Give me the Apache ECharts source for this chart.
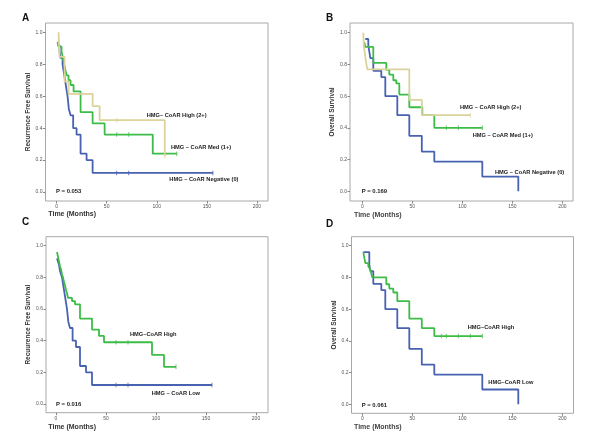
<!DOCTYPE html>
<html>
<head>
<meta charset="utf-8">
<script src="https://cdn.jsdelivr.net/npm/echarts@6/dist/echarts.min.js"></script>
<style>html,body{margin:0;padding:0;background:#fff;}#c{width:600px;height:446px;}</style>
</head>
<body>
<div id="c"></div>
<script>
// Tick values
const xTicks = [0, 50, 100, 150, 200];
const yTicks = [0, 0.2, 0.4, 0.6, 0.8, 1.0];

// Panel A: Recurrence free survival, HMG-CoAR Negative / Med / High
const a_neg = [[1,0.92],[3,0.88],[4,0.84],[6,0.80],[7,0.76],[8,0.72],[9,0.68],[10,0.64],[11,0.60],[12.3,0.52],[14,0.48],[16.6,0.40],[20,0.36],[24,0.24],[30,0.20],[36,0.12],[156,0.12]];
const a_negCens = [[60,0.12],[72,0.12],[156,0.12]];
const a_med = [[1,0.94],[2,0.91],[5,0.88],[6,0.85],[7,0.82],[8,0.79],[9,0.76],[10,0.73],[12,0.70],[14,0.67],[17,0.63],[24,0.50],[36,0.43],[48,0.36],[96,0.24],[120,0.24]];
const a_medCens = [[60,0.36],[72,0.36],[120,0.24]];
const a_high = [[2,1.0],[2.5,0.923],[3,0.846],[8,0.692],[12,0.615],[36,0.538],[43,0.45],[108,0.226]];
const a_highCens = [[60,0.45],[108,0.226]];

// Panel B: Overall survival, Negative / Med / High
const b_neg = [[3,0.96],[6,0.92],[7,0.88],[8,0.84],[11,0.76],[19,0.72],[23,0.60],[35,0.48],[47,0.35],[59.5,0.25],[72,0.187],[120,0.093],[156,0.0]];
const b_med = [[2,0.94],[3,0.91],[11,0.81],[24,0.765],[27,0.735],[31,0.70],[34,0.68],[37,0.61],[47,0.53],[60,0.48],[72,0.40],[120,0.40]];
const b_medCens = [[84,0.40],[96,0.40],[120,0.40]];
const b_high = [[1,1.0],[1.5,0.92],[3,0.846],[5,0.769],[47,0.577],[59.5,0.48],[108,0.48]];
const b_highCens = [[108,0.48]];

// Panel C: Recurrence free survival, Low / High
const c_low = [[1,0.92],[3,0.88],[4,0.84],[6,0.80],[7,0.76],[8,0.72],[9,0.68],[10,0.64],[11,0.60],[12.3,0.52],[14,0.48],[16.6,0.40],[20,0.36],[24,0.24],[30,0.20],[36,0.12],[156,0.12]];
const c_lowCens = [[60,0.12],[72,0.12],[156,0.12]];
const c_high = [[1,0.96],[2,0.93],[3,0.90],[4,0.87],[5,0.85],[6,0.82],[7,0.80],[8,0.77],[9,0.75],[10,0.72],[11,0.70],[12,0.67],[16,0.65],[19,0.63],[24,0.54],[36,0.47],[43,0.43],[48,0.39],[96,0.31],[108,0.235],[120,0.235]];
const c_highCens = [[60,0.39],[72,0.39],[120,0.235]];

// Panel D: Overall survival, Low / High
const d_low = [[1,0.96],[7,0.88],[8,0.84],[11,0.76],[19,0.72],[23,0.60],[35,0.48],[47,0.35],[59.5,0.25],[72,0.187],[120,0.093],[156,0.0]];
const d_high = [[1,0.96],[3,0.89],[6,0.87],[8,0.85],[10,0.80],[24,0.757],[27,0.73],[31,0.705],[35,0.65],[47,0.54],[59.5,0.48],[72,0.43],[120,0.43]];
const d_highCens = [[79,0.43],[84,0.43],[96,0.43],[108,0.43],[120,0.43]];

const yTitles = ['Recurrence Free Survival', 'Overall Survival', 'Recuurence Free Survival', 'Overall Survival'];
const xTitle = 'Time (Months)';
const panelLetters = ['A', 'B', 'C', 'D'];
const pValues = ['P = 0.053', 'P = 0.169', 'P = 0.016', 'P = 0.061'];

const BLUE = '#4862b2', GREEN = '#3dbd48', TAN = '#dbd29c';
const FONT = '"Liberation Sans", Arial, sans-serif';

const gridsCfg = [
  {left: 45.5, top: 23, width: 222.5, height: 178},
  {left: 350, top: 23, width: 223, height: 178},
  {left: 46, top: 236.7, width: 222, height: 176},
  {left: 351.5, top: 236.7, width: 222, height: 176.6}
];
const xRanges = [[-11, 211], [-12.3, 210.7], [-10, 212], [-10.8, 211.2]];
const yRanges = [[-0.056, 1.058], [-0.061, 1.061], [-0.055, 1.057], [-0.057, 1.057]];

const grid = gridsCfg.map(g => Object.assign({show: true, borderColor: '#a8a8a8', borderWidth: 1, backgroundColor: '#fff'}, g));
const xAxis = gridsCfg.map((g, i) => ({
  type: 'value', gridIndex: i, min: xRanges[i][0], max: xRanges[i][1], position: 'bottom',
  splitLine: {show: false}, axisLine: {show: false, onZero: false},
  axisTick: {show: true, length: 2.5, customValues: xTicks, lineStyle: {color: '#888'}},
  axisLabel: {customValues: xTicks, fontSize: 5, color: '#555', margin: 3, fontFamily: FONT}
}));
const yAxis = gridsCfg.map((g, i) => ({
  type: 'value', gridIndex: i, min: yRanges[i][0], max: yRanges[i][1], position: 'left',
  splitLine: {show: false}, axisLine: {show: false, onZero: false},
  axisTick: {show: true, length: 2.5, customValues: yTicks, lineStyle: {color: '#888'}},
  axisLabel: {customValues: yTicks, fontSize: 5, color: '#555', margin: 3, fontFamily: FONT,
    formatter: v => v.toFixed(1)},
  name: yTitles[i], nameLocation: 'middle', nameGap: 12,
  nameTextStyle: {fontSize: 6.5, fontWeight: 'bold', color: '#333', fontFamily: FONT}
}));

function curve(i, data, color) {
  return {type: 'line', xAxisIndex: i, yAxisIndex: i, data: data, step: 'end', symbol: 'none',
    lineStyle: {color: color, width: 1.8}, silent: true, animation: false};
}
function cens(i, data, color) {
  return {type: 'scatter', xAxisIndex: i, yAxisIndex: i, data: data, symbol: 'rect',
    symbolSize: [1, 4.5], itemStyle: {color: color}, silent: true, animation: false};
}

const series = [
  curve(0, a_neg, BLUE), cens(0, a_negCens, BLUE),
  curve(0, a_med, GREEN), cens(0, a_medCens, GREEN),
  curve(0, a_high, TAN), cens(0, a_highCens, TAN),
  curve(1, b_neg, BLUE),
  curve(1, b_med, GREEN), cens(1, b_medCens, GREEN),
  curve(1, b_high, TAN), cens(1, b_highCens, TAN),
  curve(2, c_low, BLUE), cens(2, c_lowCens, BLUE),
  curve(2, c_high, GREEN), cens(2, c_highCens, GREEN),
  curve(3, d_low, BLUE),
  curve(3, d_high, GREEN), cens(3, d_highCens, GREEN)
];

function txt(x, y, text, size, weight, color, align) {
  return {type: 'text', x: x, y: y, silent: true,
    style: {text: text, font: weight + ' ' + size + 'px ' + FONT, fill: color,
      align: align || 'left', verticalAlign: 'middle'}};
}

const graphic = [
  txt(22, 18.5, panelLetters[0], 10, 'bold', '#111'),
  txt(326, 18.5, panelLetters[1], 10, 'bold', '#111'),
  txt(22, 222.5, panelLetters[2], 10, 'bold', '#111'),
  txt(326, 224, panelLetters[3], 10, 'bold', '#111'),
  txt(48.3, 214.3, xTitle, 7, 'bold', '#333'),
  txt(354, 215, xTitle, 7, 'bold', '#444'),
  txt(48.3, 427.3, xTitle, 7, 'bold', '#333'),
  txt(354, 427.3, xTitle, 7, 'bold', '#444'),
  txt(56, 191.7, pValues[0], 5.9, 'bold', '#222'),
  txt(361.7, 191.7, pValues[1], 5.9, 'bold', '#222'),
  txt(56, 404, pValues[2], 5.9, 'bold', '#222'),
  txt(361.7, 405, pValues[3], 5.9, 'bold', '#222'),
  txt(146.7, 115, 'HMG– CoAR High (2+)', 5.7, 'bold', '#222'),
  txt(171, 147.3, 'HMG – CoAR Med (1+)', 5.7, 'bold', '#222'),
  txt(169.3, 179, 'HMG – CoAR Negative (0)', 5.7, 'bold', '#222'),
  txt(460, 107.3, 'HMG – CoAR High (2+)', 5.7, 'bold', '#222'),
  txt(472.7, 135, 'HMG – CoAR Med (1+)', 5.7, 'bold', '#222'),
  txt(495, 172.3, 'HMG – CoAR Negative (0)', 5.7, 'bold', '#222'),
  txt(130, 334, 'HMG–CoAR High', 5.7, 'bold', '#222'),
  txt(151.7, 393.3, 'HMG – CoAR Low', 5.7, 'bold', '#222'),
  txt(467.7, 327.3, 'HMG–CoAR High', 5.7, 'bold', '#222'),
  txt(488.3, 382.7, 'HMG–CoAR Low', 5.7, 'bold', '#222')
];

const chart = echarts.init(document.getElementById('c'), null, {renderer: 'canvas'});
chart.setOption({
  backgroundColor: '#fff', animation: false,
  grid: grid, xAxis: xAxis, yAxis: yAxis, series: series, graphic: graphic
});
</script>
</body>
</html>
